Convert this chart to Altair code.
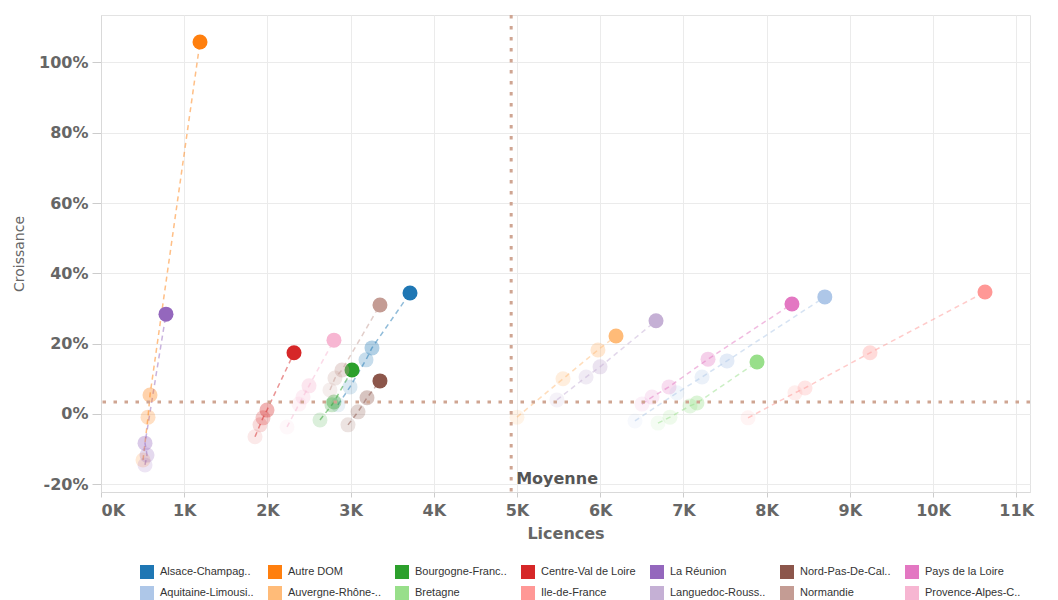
import altair as alt
import pandas as pd

# Legend order (row-wise, 7 columns)
REGIONS = ["Alsace-Champag..", "Autre DOM", "Bourgogne-Franc..", "Centre-Val de Loire",
           "La Réunion", "Nord-Pas-De-Cal..", "Pays de la Loire",
           "Aquitaine-Limousi..", "Auvergne-Rhône-..", "Bretagne", "Ile-de-France",
           "Languedoc-Rouss..", "Normandie", "Provence-Alpes-C.."]
COLORS = ["#1f77b4", "#ff7f0e", "#2ca02c", "#d62728", "#9467bd", "#8c564b", "#e377c2",
          "#aec7e8", "#ffbb78", "#98df8a", "#ff9896", "#c5b0d5", "#c49c94", "#f7b6d2"]

YEARS = [2012, 2013, 2014, 2015, 2016]
YEAR_OPACITY = [0.1, 0.17, 0.25, 0.35, 1.0]

# Licences / Croissance (%) per region, last value = latest year
ALSACE_LIC = [2848, 2993, 3185, 3257, 3714]
ALSACE_CRO = [2.6, 7.7, 15.4, 18.8, 34.4]
AUTRE_DOM_LIC = [505, 565, 589, 1190]
AUTRE_DOM_CRO = [-13.1, -0.9, 5.4, 105.8]
BOURGOGNE_LIC = [2632, 2776, 2800, 3017]
BOURGOGNE_CRO = [-1.7, 2.6, 3.4, 12.5]
CENTRE_LIC = [1851, 1911, 1947, 1995, 2320]
CENTRE_CRO = [-6.5, -3.1, -1.1, 1.1, 17.4]
REUNION_LIC = [529, 553, 529, 781]
REUNION_CRO = [-14.5, -11.7, -8.3, 28.4]
NORD_LIC = [2969, 3089, 3197, 3353]
NORD_CRO = [-3.1, 0.6, 4.6, 9.4]
PAYS_LIC = [6502, 6623, 6827, 7296, 8305]
PAYS_CRO = [2.8, 4.8, 7.7, 15.6, 31.3]
AQUITAINE_LIC = [6418, 6923, 7224, 7524, 8700]
AQUITAINE_CRO = [-2.0, 6.0, 10.5, 15.1, 33.3]
AUVERGNE_LIC = [5000, 5553, 5973, 6190]
AUVERGNE_CRO = [-0.9, 10.0, 18.2, 22.2]
BRETAGNE_LIC = [6695, 6839, 7079, 7163, 7885]
BRETAGNE_CRO = [-2.6, -0.9, 2.3, 3.1, 14.8]
IDF_LIC = [7777, 8341, 8462, 9243, 10625]
IDF_CRO = [-1.1, 6.0, 7.4, 17.4, 34.7]
LANGUEDOC_LIC = [5480, 5830, 5998, 6671]
LANGUEDOC_CRO = [4.0, 10.5, 13.4, 26.5]
NORMANDIE_LIC = [2752, 2812, 2896, 3353]
NORMANDIE_CRO = [6.8, 10.2, 12.5, 31.0]
PROVENCE_LIC = [2236, 2380, 2428, 2500, 2800]
PROVENCE_CRO = [-3.7, 2.8, 4.8, 8.0, 21.0]

SERIES = [
    (ALSACE_LIC, ALSACE_CRO), (AUTRE_DOM_LIC, AUTRE_DOM_CRO), (BOURGOGNE_LIC, BOURGOGNE_CRO),
    (CENTRE_LIC, CENTRE_CRO), (REUNION_LIC, REUNION_CRO), (NORD_LIC, NORD_CRO),
    (PAYS_LIC, PAYS_CRO), (AQUITAINE_LIC, AQUITAINE_CRO), (AUVERGNE_LIC, AUVERGNE_CRO),
    (BRETAGNE_LIC, BRETAGNE_CRO), (IDF_LIC, IDF_CRO), (LANGUEDOC_LIC, LANGUEDOC_CRO),
    (NORMANDIE_LIC, NORMANDIE_CRO), (PROVENCE_LIC, PROVENCE_CRO),
]

MEAN_LICENCES = 4930
MEAN_CROISSANCE = 3.4
MEAN_LABEL = "Moyenne"
X_TICKS = [0, 1000, 2000, 3000, 4000, 5000, 6000, 7000, 8000, 9000, 10000, 11000]
Y_TICKS = [-0.2, 0.0, 0.2, 0.4, 0.6, 0.8, 1.0]

rows = []
for name, (lic, cro) in zip(REGIONS, SERIES):
    yrs = YEARS[-len(lic):]
    alphas = YEAR_OPACITY[-len(lic):]
    for yr, a, l, c in zip(yrs, alphas, lic, cro):
        rows.append({"region": name, "year": yr, "alpha": a, "licences": l, "croissance": c / 100})
df = pd.DataFrame(rows)
mean_df = pd.DataFrame([{"licences": MEAN_LICENCES, "croissance": MEAN_CROISSANCE / 100,
                         "label": MEAN_LABEL, "ly": -0.185}])

FONT = "DejaVu Sans"
GREY = "#666666"

xscale = alt.Scale(domain=[0, 11166], nice=False, zero=False)
yscale = alt.Scale(domain=[-0.222, 1.135], nice=False, zero=False)

x_axis = alt.Axis(values=X_TICKS, labelExpr="datum.value/1000 + 'K'", title="Licences",
                  labelFont=FONT, labelFontSize=16, labelFontWeight="bold", labelColor=GREY,
                  labelFlush=True, labelPadding=5, tickSize=5, tickColor="#cccccc",
                  domainColor="#d9d9d9", gridColor="#ebebeb",
                  titleFont=FONT, titleFontSize=16, titleFontWeight="bold", titleColor=GREY,
                  titlePadding=7)
y_axis = alt.Axis(values=Y_TICKS,
                  labelExpr="replace(format(datum.value, '.0%'), '\u2212', '-')",
                  title="Croissance",
                  labelFont=FONT, labelFontSize=16, labelFontWeight="bold", labelColor=GREY,
                  labelPadding=4, tickSize=9, tickColor="#cccccc",
                  domainColor="#d9d9d9", gridColor="#ebebeb",
                  titleFont=FONT, titleFontSize=14, titleFontWeight="normal", titleColor=GREY,
                  titlePadding=12)

color_scale = alt.Scale(domain=REGIONS, range=COLORS)
legend = alt.Legend(title=None, orient="none", legendX=39, legendY=550,
                    columns=7, direction="horizontal",
                    symbolType="square", symbolSize=196,
                    symbolOpacity=1, symbolStrokeWidth=0,
                    labelFont="Liberation Sans", labelFontSize=11,
                    labelColor="#333333", labelOffset=6,
                    rowPadding=7, columnPadding=14, padding=0,
                    gridAlign="each", labelLimit=200)

lines = alt.Chart(df).mark_line(strokeDash=[5, 4], strokeWidth=1.5, opacity=0.5).encode(
    x=alt.X("licences:Q", scale=xscale, axis=x_axis),
    y=alt.Y("croissance:Q", scale=yscale, axis=y_axis),
    color=alt.Color("region:N", scale=color_scale, legend=None),
    detail="region:N",
    order="year:O",
)

points = alt.Chart(df).mark_circle(size=225).encode(
    x=alt.X("licences:Q", scale=xscale),
    y=alt.Y("croissance:Q", scale=yscale),
    color=alt.Color("region:N", scale=color_scale, legend=legend),
    opacity=alt.Opacity("alpha:Q", scale=None),
)

rule_style = dict(color="#cfa592", strokeWidth=3, strokeDash=[3.5, 7.5])
vrule = alt.Chart(mean_df).mark_rule(**rule_style).encode(x=alt.X("licences:Q", scale=xscale))
hrule = alt.Chart(mean_df).mark_rule(**rule_style).encode(y=alt.Y("croissance:Q", scale=yscale))
mean_text = alt.Chart(mean_df).mark_text(align="left", baseline="middle", dx=5, font=FONT,
                                         fontSize=16, fontWeight="bold", color="#555555").encode(
    x=alt.X("licences:Q", scale=xscale),
    y=alt.Y("ly:Q", scale=yscale),
    text="label:N",
)

chart = alt.layer(lines, points, vrule, hrule, mean_text).resolve_legend(
    color="independent"
).properties(
    width=929, height=477,
    autosize=alt.AutoSizeParams(type="none"),
    padding={"left": 93, "top": 7, "right": 20, "bottom": 108},
).configure_view(stroke="#e3e3e3").configure_axis(grid=True)

chart.save("out.html", embed_options={"renderer": "svg", "actions": False})
